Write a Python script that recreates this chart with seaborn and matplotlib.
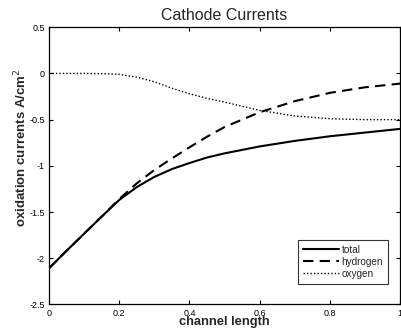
import matplotlib
matplotlib.use("Agg")
import matplotlib.pyplot as plt
import seaborn as sns
import pandas as pd

x = [0, 0.05, 0.1, 0.15, 0.2, 0.25, 0.3, 0.35, 0.4, 0.45, 0.5, 0.6, 0.7, 0.8, 0.9, 1.0]
total = [-2.11, -1.92, -1.735, -1.55, -1.37, -1.23, -1.12, -1.035, -0.97, -0.91, -0.865, -0.79, -0.73, -0.68, -0.64, -0.60]
hydrogen = [-2.11, -1.92, -1.735, -1.55, -1.36, -1.19, -1.045, -0.92, -0.80, -0.685, -0.58, -0.42, -0.30, -0.21, -0.15, -0.11]
oxygen = [0, 0, 0, -0.003, -0.01, -0.04, -0.09, -0.16, -0.22, -0.27, -0.31, -0.40, -0.46, -0.49, -0.50, -0.50]
xticks = [0, 0.2, 0.4, 0.6, 0.8, 1]
xticklabels = ["0", "0.2", "0.4", "0.6", "0.8", "1"]
yticks = [-2.5, -2, -1.5, -1, -0.5, 0, 0.5]
yticklabels = ["-2.5", "-2", "-1.5", "-1", "-0.5", "0", "0.5"]

sns.set_style("white")
plt.rcParams['font.family'] = ['Liberation Sans', 'DejaVu Sans']

df = pd.DataFrame({"x": x, "total": total, "hydrogen": hydrogen, "oxygen": oxygen})

fig = plt.figure(figsize=(4.01, 3.32), dpi=100)
ax = fig.add_axes([0.122, 0.083, 0.876, 0.835])

sns.lineplot(data=df, x="x", y="total", ax=ax, color="black", lw=1.5, label="total")
sns.lineplot(data=df, x="x", y="hydrogen", ax=ax, color="black", lw=1.5,
             linestyle=(0, (5, 3)), label="hydrogen")
sns.lineplot(data=df, x="x", y="oxygen", ax=ax, color="black", lw=1.0,
             linestyle=(0, (1, 1.5)), label="oxygen")

ax.set_xlim(0, 1)
ax.set_ylim(-2.5, 0.5)
ax.set_xticks(xticks)
ax.set_xticklabels(xticklabels)
ax.set_yticks(yticks)
ax.set_yticklabels(yticklabels)
ax.tick_params(direction="in", length=3, width=0.8, labelsize=6.5, colors="black",
               top=True, right=True, bottom=True, left=True, pad=3)
for s in ax.spines.values():
    s.set_color("black")
    s.set_linewidth(0.9)

ax.set_title("Cathode Currents", fontsize=11.5, pad=5)
ax.set_xlabel("channel length", fontsize=9.3, fontweight="bold", labelpad=-1)
ax.set_ylabel("oxidation currents A/cm$^2$", fontsize=9.5, fontweight="bold")
ax.yaxis.set_label_coords(-0.057, 0.567)

leg = ax.legend(loc="lower right", bbox_to_anchor=(0.965, 0.075), fontsize=7.2,
                frameon=True, fancybox=False, edgecolor="black", handlelength=3.6,
                handletextpad=0.25, borderpad=0.5, labelspacing=0.2, borderaxespad=0)
leg.get_frame().set_linewidth(0.8)

fig.savefig("out.png", dpi=100)
